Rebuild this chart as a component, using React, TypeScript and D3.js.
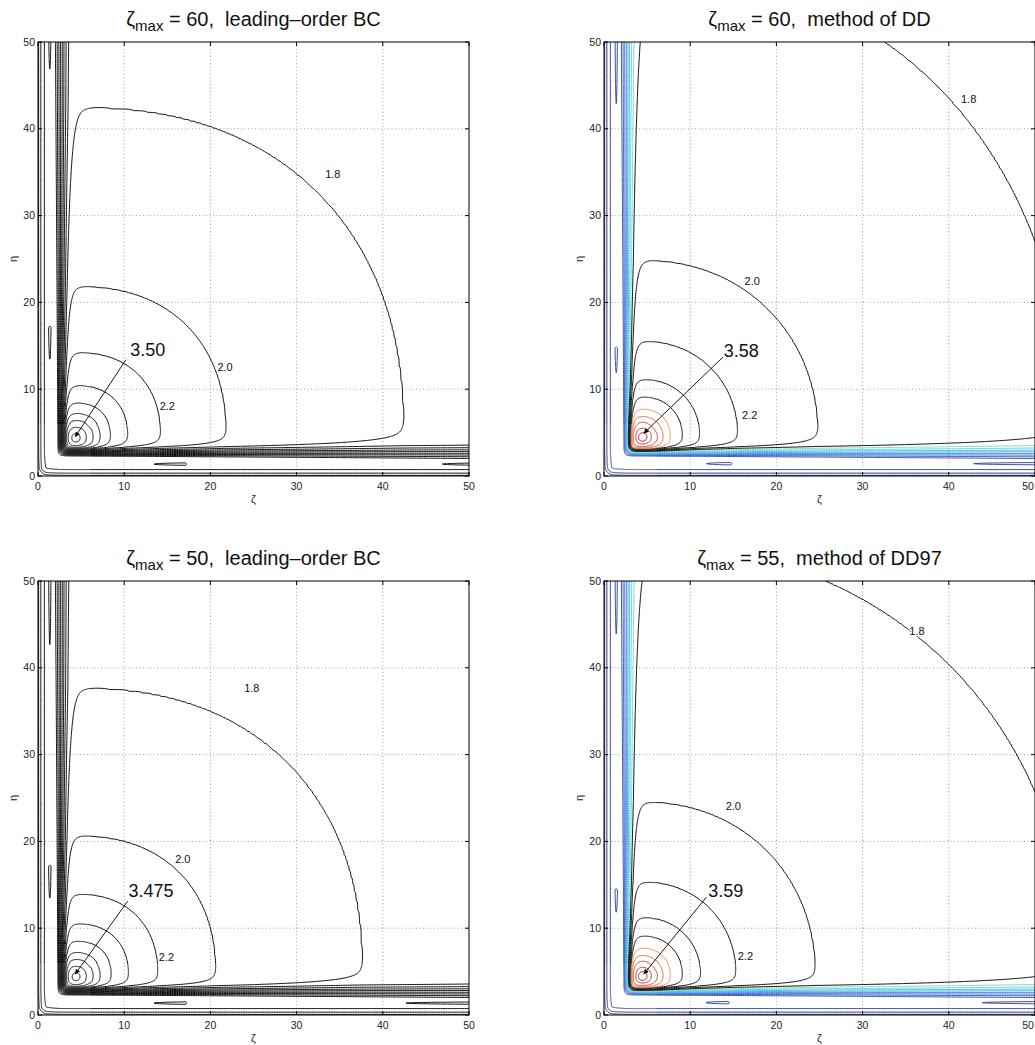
import React, { useMemo } from 'react';
import * as d3 from 'd3';

const WIDTH = 1035;
const HEIGHT = 1045;
const PLOT_W = 431;
const PLOT_H = 434;
const FONT = 'Liberation Sans, Arial, Helvetica, sans-serif';

// ---------- axes ----------
const TICK_VALUES = [0, 10, 20, 30, 40, 50];
const GRID_VALUES = [10, 20, 30, 40];

// ---------- contour levels ----------
const LEVELS_BC = [-0.4, -0.2, 0, 0.2, 0.4, 0.6, 0.8, 1.0, 1.2, 1.4, 1.6, 1.8, 2.0, 2.2, 2.4, 2.6, 2.8, 3.0, 3.2, 3.4];
const LEVELS_DD = [-0.4, -0.2, 0, 0.2, 0.4, 0.6, 0.8, 1.0, 1.2, 1.4, 1.6, 1.8, 2.0, 2.2, 2.4, 2.6, 2.8, 3.0, 3.2, 3.4, 3.5];
const COLORS_DD = ['#1a2066', '#1d2674', '#2a3aa0', '#2c44b0', '#3452c0', '#3b68cf', '#4587dc', '#38a6e6', '#2fc0ea', '#5ad2e6', '#84d6b0',
  '#000000', '#000000', '#000000', '#000000', '#000000', '#f5843a', '#ee5528', '#dc2e1e', '#c01a16', '#9e0e0e'];

// ---------- radial profiles (distance from the peak -> contour value) ----------
const BC60_RHO = [0, 0.6, 1.3, 2.0, 2.8, 4.0, 6.0, 9.8, 17.4, 38, 100];
const BC60_VAL = [3.50, 3.4, 3.2, 3.0, 2.8, 2.6, 2.4, 2.2, 2.0, 1.8, 1.72];
const DD60_RHO = [0, 0.6, 1.1, 1.7, 2.35, 3.2, 4.6, 6.6, 11.0, 20.3, 52.9, 130];
const DD60_VAL = [3.58, 3.5, 3.4, 3.2, 3.0, 2.8, 2.6, 2.4, 2.2, 2.0, 1.8, 1.72];
const BC50_RHO = [0, 0.6, 1.3, 2.0, 2.8, 4.1, 6.1, 9.5, 16.2, 33.2, 90];
const BC50_VAL = [3.475, 3.4, 3.2, 3.0, 2.8, 2.6, 2.4, 2.2, 2.0, 1.8, 1.72];
const DD55_RHO = [0, 0.6, 1.1, 1.7, 2.35, 3.2, 4.6, 6.7, 10.8, 20.0, 49.6, 120];
const DD55_VAL = [3.59, 3.5, 3.4, 3.2, 3.0, 2.8, 2.6, 2.4, 2.2, 2.0, 1.8, 1.72];

// ---------- wall layer (distance from wall -> attenuation), far-field calibration ----------
const WALL_S = [0, 1.8, 2.0, 2.2, 2.4, 2.6, 2.8, 3.0, 3.25, 3.55];
const WALL_A = [0, 0, 0.087, 0.202, 0.318, 0.434, 0.549, 0.665, 0.78, 0.896];
const WALL_TAIL = 0.45;     // decay length of the outer tail
const WALL_MID = 2.8;       // centre of the wall layer
const WALL_GROWTH = [0.55, 1.0]; // relative thickness at the corner and at ζ = 50
const PLATEAU = 0.05;
const NEAR_WALL = [0.5, 1.05]; // depth at the wall, width of the sub-layer

// ---------- thin closed lobes along the walls: [tip, end] ----------
const BC60_LOBES = [[13.3, 17.0], [46.8, 52]];
const DD60_LOBES = [[11.8, 14.6], [42.8, 52]];
const BC50_LOBES = [[13.3, 17.0], [42.5, 52]];
const DD55_LOBES = [[11.7, 14.3], [43.8, 52]];

// ---------- annotations ----------
const BC60_PEAK = { text: '3.50', from: [10.2, 13.4], to: [4.3, 4.5], at: [10.7, 13.8] };
const DD60_PEAK = { text: '3.58', from: [13.8, 13.7], to: [4.6, 4.9], at: [13.9, 13.7] };
const BC50_PEAK = { text: '3.475', from: [10.4, 13.1], to: [4.3, 4.7], at: [10.5, 13.6] };
const DD55_PEAK = { text: '3.59', from: [11.9, 13.6], to: [4.6, 4.7], at: [12.1, 13.6] };

const BC60_LABELS = [['1.8', 34.2, 34.8], ['2.0', 21.7, 12.5], ['2.2', 15.0, 8.0]];
const DD60_LABELS = [['1.8', 42.3, 43.4], ['2.0', 17.2, 22.4], ['2.2', 16.9, 7.0]];
const BC50_LABELS = [['1.8', 24.8, 37.6], ['2.0', 16.8, 18.0], ['2.2', 14.9, 6.7]];
const DD55_LABELS = [['1.8', 36.3, 44.2], ['2.0', 15.0, 24.1], ['2.2', 16.4, 6.8]];

const PANELS = [
  { id: 'p1', zmax: '60', method: 'leading–order BC', left: 38, top: 42, rho: BC60_RHO, val: BC60_VAL, center: 4.3, power: 2.3, stretch: 0, lobes: BC60_LOBES, lobeN: 1.35, levels: LEVELS_BC, colors: null, peak: BC60_PEAK, labels: BC60_LABELS },
  { id: 'p2', zmax: '60', method: 'method of DD', left: 604, top: 42, rho: DD60_RHO, val: DD60_VAL, center: 4.4, power: 2.1, stretch: 0.15, lobes: DD60_LOBES, lobeN: 1.4, levels: LEVELS_DD, colors: COLORS_DD, peak: DD60_PEAK, labels: DD60_LABELS },
  { id: 'p3', zmax: '50', method: 'leading–order BC', left: 38, top: 581, rho: BC50_RHO, val: BC50_VAL, center: 4.3, power: 2.3, stretch: 0, lobes: BC50_LOBES, lobeN: 1.35, levels: LEVELS_BC, colors: null, peak: BC50_PEAK, labels: BC50_LABELS },
  { id: 'p4', zmax: '55', method: 'method of DD97', left: 604, top: 581, rho: DD55_RHO, val: DD55_VAL, center: 4.4, power: 2.1, stretch: 0, lobes: DD55_LOBES, lobeN: 1.4, levels: LEVELS_DD, colors: COLORS_DD, peak: DD55_PEAK, labels: DD55_LABELS },
];

// non-uniform sampling grid (fine near the walls)
const GRID: number[] = (() => {
  const g: number[] = [];
  for (let k = 0; k < 160; k++) g.push(-0.4 + k * 0.04);
  for (let k = 0; k <= 230; k++) g.push(6 + k * 0.2);
  return g;
})();

const wallTable = d3.scaleLinear().domain(WALL_S).range(WALL_A).clamp(true);
function wallProfile(s: number) {
  const sEnd = WALL_S[WALL_S.length - 1];
  if (s <= sEnd) return wallTable(s);
  const aEnd = WALL_A[WALL_A.length - 1];
  return 1 - (1 - aEnd) * Math.exp(-(s - sEnd) / WALL_TAIL);
}
function wallFactor(s: number, t: number) {
  const u = Math.max(0, Math.min(1, t / 50));
  const g = WALL_GROWTH[0] + (WALL_GROWTH[1] - WALL_GROWTH[0]) * u;
  return wallProfile(WALL_MID + (s - WALL_MID) / g);
}

function nearWall(s: number) {
  const q = 1 - s / NEAR_WALL[1];
  return q > 0 ? NEAR_WALL[0] * q * q : 0;
}

function lobe(t: number, n: number, t0: number, t1: number, n0: number) {
  const dn = (n - n0) / 0.17;
  if (Math.abs(dn) > 4) return 0;
  const g = Math.exp(-dn * dn);
  let d;
  if (t < t0) d = 0.05 * Math.max(0, 1 - (t0 - t) / 1.0);
  else if (t <= t1) d = 0.05 + 0.05 * (t - t0) / (t1 - t0);
  else d = 0.1 * Math.max(0, 1 - (t - t1) / 0.3);
  return d * g;
}

function computeContours(cfg: any, x: any, y: any) {
  const n = GRID.length;
  const V = d3.scaleLinear().domain(cfg.rho).range(cfg.val).clamp(true);
  const Nv = GRID.map((s) => nearWall(s));
  const p = cfg.power;
  const c = cfg.center;
  const dpx = GRID.map((s) => {
    const d = Math.abs(s - c);
    return Math.pow(d + cfg.stretch * Math.max(0, d - 25), p);
  });
  const dpy = GRID.map((s) => Math.pow(Math.abs(s - c), p));
  const values = new Array(n * n);
  for (let j = 0; j < n; j++) {
    const e = GRID[j];
    for (let i = 0; i < n; i++) {
      const z = GRID[i];
      const r = Math.pow(dpx[i] + dpy[j], 1 / p);
      const a = wallFactor(z, e) * wallFactor(e, z);
      let f = V(r) * a + PLATEAU * (1 - a) - Nv[i] - Nv[j] - 0.07 * Math.exp(-(z * z + e * e) / 2.56);
      for (const [t0, t1] of cfg.lobes) {
        f -= lobe(e, z, t0, t1, cfg.lobeN) + lobe(z, e, t0, t1, cfg.lobeN);
      }
      values[j * n + i] = f;
    }
  }
  const gen = d3.contours().size([n, n]).thresholds(cfg.levels);
  const polys = gen(values);
  const idx = (ci: number) => {
    let k = Math.floor(ci);
    if (k < 0) k = 0;
    if (k > n - 2) k = n - 2;
    return GRID[k] + (ci - k) * (GRID[k + 1] - GRID[k]);
  };
  const line: any = d3.line();
  if (line.digits) line.digits(2);
  return polys.map((g: any) => {
    let d = '';
    for (const poly of g.coordinates) {
      for (const ring of poly) {
        d += line(ring.map(([ci, cj]: number[]) => [x(idx(ci)), y(idx(cj))]));
      }
    }
    const li = cfg.levels.indexOf(g.value);
    return { value: g.value, d, color: cfg.colors ? cfg.colors[li] : '#000000' };
  });
}

function Panel({ cfg }: { cfg: any }) {
  const x = d3.scaleLinear().domain([0, 50]).range([cfg.left, cfg.left + PLOT_W]);
  const y = d3.scaleLinear().domain([0, 50]).range([cfg.top + PLOT_H, cfg.top]);
  const paths = useMemo(() => computeContours(cfg, x, y), [cfg]);
  const x0 = cfg.left, x1 = cfg.left + PLOT_W, y0 = cfg.top, y1 = cfg.top + PLOT_H;
  const cx = (x0 + x1) / 2;
  const pk = cfg.peak;
  return (
    <g fontFamily={FONT}>
      <defs>
        <clipPath id={`clip-${cfg.id}`}>
          <rect x={x0} y={y0} width={PLOT_W} height={PLOT_H} />
        </clipPath>
      </defs>
      <rect x={x0} y={y0} width={PLOT_W} height={PLOT_H} fill="#ffffff" />
      {GRID_VALUES.map((v) => (
        <g key={`g${v}`} stroke="#8a8a8a" strokeWidth={0.8} strokeDasharray="1 2.5">
          <line x1={x(v)} x2={x(v)} y1={y0} y2={y1} />
          <line x1={x0} x2={x1} y1={y(v)} y2={y(v)} />
        </g>
      ))}
      <g clipPath={`url(#clip-${cfg.id})`} fill="none" strokeWidth={0.95} strokeLinejoin="round">
        {paths.map((pth: any) => (
          <path key={pth.value} d={pth.d} stroke={pth.color} />
        ))}
      </g>
      <rect x={x0} y={y0} width={PLOT_W} height={PLOT_H} fill="none" stroke="#000" strokeWidth={1} />
      {TICK_VALUES.map((v) => (
        <g key={`t${v}`} stroke="#000" strokeWidth={1}>
          <line x1={x(v)} x2={x(v)} y1={y1} y2={y1 - 4} />
          <line x1={x(v)} x2={x(v)} y1={y0} y2={y0 + 4} />
          <line x1={x0} x2={x0 + 4} y1={y(v)} y2={y(v)} />
          <line x1={x1} x2={x1 - 4} y1={y(v)} y2={y(v)} />
        </g>
      ))}
      {TICK_VALUES.map((v) => (
        <text key={`xl${v}`} x={Math.min(x(v), WIDTH - 7)} y={y1 + 14} fontSize={10.5} textAnchor="middle" fill="#222">{v}</text>
      ))}
      {TICK_VALUES.map((v) => (
        <text key={`yl${v}`} x={x0 - 3} y={y(v)} dy="0.35em" fontSize={10.5} textAnchor="end" fill="#222">{v}</text>
      ))}
      <text x={cx} y={y1 + 27} fontSize={11} textAnchor="middle" fill="#222">ζ</text>
      <text x={x0 - 25} y={(y0 + y1) / 2} fontSize={11} textAnchor="middle" fill="#222" transform={`rotate(-90 ${x0 - 25} ${(y0 + y1) / 2})`} dy="0.35em">η</text>
      <text x={cx} y={y0 - 16} fontSize={20} textAnchor="middle" fill="#111" style={{ whiteSpace: 'pre' }}>
        ζ<tspan fontSize={15} dy={5}>max</tspan><tspan dy={-5}>{` = ${cfg.zmax},  ${cfg.method}`}</tspan>
      </text>
      {cfg.labels.map(([t, lz, le]: any) => (
        <text key={t} x={x(lz)} y={y(le)} dy="0.35em" fontSize={11} textAnchor="middle" fill="#111"
          stroke="#fff" strokeWidth={2.5} paintOrder="stroke" strokeLinejoin="round">{t}</text>
      ))}
      <line x1={x(pk.from[0])} y1={y(pk.from[1])} x2={x(pk.to[0])} y2={y(pk.to[1])} stroke="#000" strokeWidth={0.9} markerEnd="url(#arrowhead)" />
      <text x={x(pk.at[0])} y={y(pk.at[1])} fontSize={18} fill="#111">{pk.text}</text>
    </g>
  );
}

export default function App() {
  return (
    <svg width={WIDTH} height={HEIGHT} style={{ position: 'absolute', left: 0, top: 0, background: '#fff' }}>
      <defs>
        <marker id="arrowhead" viewBox="0 0 10 10" refX="10" refY="5" markerWidth="7" markerHeight="5" markerUnits="userSpaceOnUse" orient="auto">
          <path d="M0,0 L10,5 L0,10 z" fill="#000" />
        </marker>
      </defs>
      <rect x={0} y={0} width={WIDTH} height={HEIGHT} fill="#fff" />
      {PANELS.map((p) => (
        <Panel key={p.id} cfg={p} />
      ))}
    </svg>
  );
}
